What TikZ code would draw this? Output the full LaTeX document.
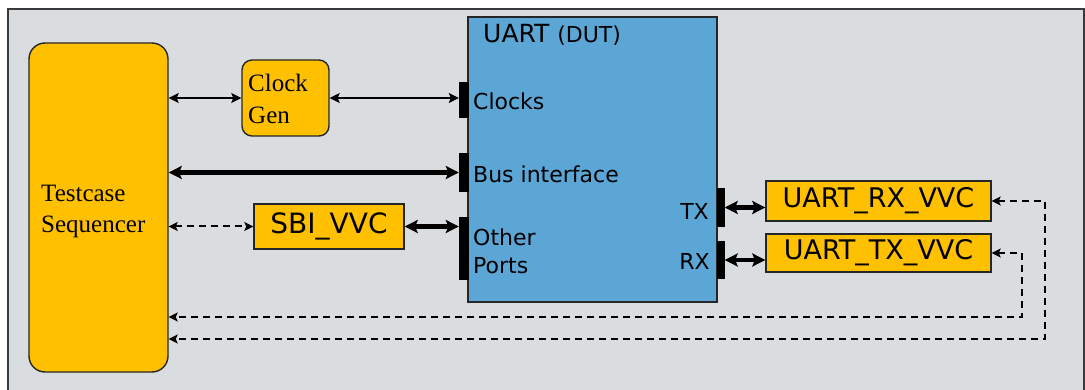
\documentclass[tikz,border=0pt]{standalone}
\usepackage{fontspec}
\setmainfont{Liberation Serif}
\newfontfamily\dv{DejaVu Sans}
\usetikzlibrary{arrows.meta}
\definecolor{bgc}{HTML}{DADDE0}
\definecolor{orng}{HTML}{FFC000}
\definecolor{blu}{HTML}{5CA6D6}
\definecolor{frm}{HTML}{3A3A3A}
\tikzset{
  box/.style={draw=black!85, line width=1.4pt, fill=orng, inner sep=0pt},
  bar/.style={fill=black, draw=none, inner sep=0pt},
  thinarr/.style={line width=1.8pt, {Stealth[length=10pt,width=10pt,inset=2pt]}-{Stealth[length=10pt,width=10pt,inset=2pt]}},
  thickarr/.style={line width=4.2pt, {Stealth[length=13pt,width=13pt,inset=2.5pt]}-{Stealth[length=13pt,width=13pt,inset=2.5pt]}},
  dasharr/.style={line width=2pt, dash pattern=on 7pt off 5pt, {Stealth[length=9pt,width=9pt,inset=2pt]}-{Stealth[length=9pt,width=9pt,inset=2pt]}},
  lbl/.style={inner sep=0pt, anchor=base west},
}
\newcommand{\sz}[1]{\fontsize{#1}{#1}\selectfont}
\begin{document}
\begin{tikzpicture}[x=1pt,y=-1pt]
\useasboundingbox (0,0) rectangle (1085,390);
\fill[white] (0,0) rectangle (1085,390);
\draw[frm, line width=2pt, fill=bgc] (8,9) rectangle (1084,400);

% Testcase sequencer
\node[box, rounded corners=16pt, minimum width=139pt, minimum height=329pt] (tc) at (98.5,207.5) {};
\node[lbl] (tct) at (41,202) {\sz{25}Testcase};
\node[lbl] (tcs) at (41,233) {\sz{25}Sequencer};

% Clock gen
\node[box, rounded corners=10pt, minimum width=87pt, minimum height=76pt] (cg) at (285.5,98) {};
\node[lbl] (cgt1) at (248,92) {\sz{25}Clock};
\node[lbl] (cgt2) at (248,124) {\sz{25}Gen};

% SBI VVC
\node[box, minimum width=150pt, minimum height=45pt] (sbi) at (329,226.5) {\dv\sz{28}SBI\_VVC};

% UART
\node[draw=black!85, line width=1.4pt, fill=blu, minimum width=249pt, minimum height=285pt, inner sep=0pt] (uart) at (592.5,159.5) {};
\node[lbl] (ut) at (483,43) {\dv\sz{25}UART \sz{22}(DUT)};

% port bars
\node[bar, minimum width=10pt, minimum height=36pt] (clkbar) at (464,100) {};
\node[bar, minimum width=10pt, minimum height=39pt] (busbar) at (464,172.5) {};
\node[bar, minimum width=10pt, minimum height=63pt] (othbar) at (464,248.5) {};
\node[bar, minimum width=8pt, minimum height=39pt] (txbar) at (720.5,207.5) {};
\node[bar, minimum width=8pt, minimum height=38pt] (rxbar) at (720.5,260) {};

% port labels
\node[lbl] (lclk) at (473,110) {\dv\sz{22}Clocks};
\node[lbl] (lbus) at (473,183) {\dv\sz{22}Bus interface};
\node[lbl] (loth) at (473,246) {\dv\sz{22}Other};
\node[lbl] (lpor) at (473,273) {\dv\sz{22}Ports};
\node[inner sep=0pt, anchor=base east] (ltx) at (709,220) {\dv\sz{22}TX};
\node[inner sep=0pt, anchor=base east] (lrx) at (710,270) {\dv\sz{22}RX};

% VVCs
\node[box, minimum width=225pt, minimum height=40pt] (rxvvc) at (878.5,201) {\dv\sz{27}UART\_RX\_VVC};
\node[box, minimum width=225pt, minimum height=38pt] (txvvc) at (878.5,253) {\dv\sz{27}UART\_TX\_VVC};

% connectors
\draw[thinarr] (tc.east |- cg.west) -- (cg.west);
\draw[thinarr] (cg.east) -- (clkbar.west |- cg.east);
\draw[thickarr] (tc.east |- busbar.west) -- (busbar.west);
\draw[dasharr] (tc.east |- sbi.west) -- (sbi.west);
\draw[thickarr] (sbi.east) -- (othbar.west |- sbi.east);
\draw[thickarr] (txbar.east) -- (rxvvc.west |- txbar.east);
\draw[thickarr] (rxbar.east) -- (txvvc.west |- rxbar.east);

\coordinate (r1) at (1045,339);
\coordinate (r2) at (1022,317);
\draw[dasharr] (rxvvc.east) -| (r1) -- (tc.east |- r1);
\draw[dasharr] (txvvc.east) -| (r2) -- (tc.east |- r2);
\end{tikzpicture}
\end{document}
